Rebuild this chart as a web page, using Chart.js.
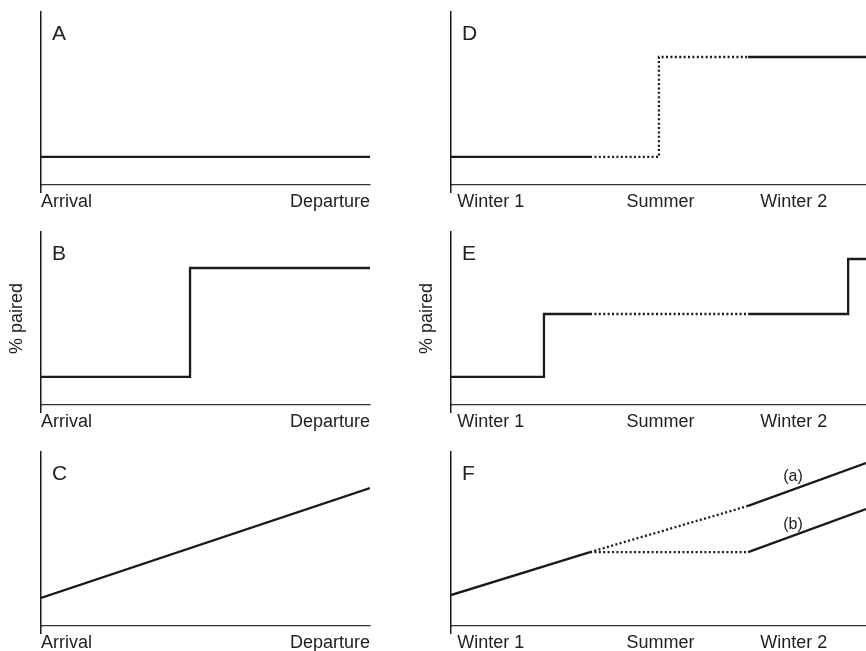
<!DOCTYPE html>
<html>
<head>
<meta charset="utf-8">
<script src="https://cdn.jsdelivr.net/npm/chart.js@4"></script>
<style>
  html, body { margin: 0; padding: 0; background: #fff; overflow: hidden; }
  body { width: 866px; height: 651px; position: relative; }
  .panel { position: absolute; }
  #pA { left: 0; top: 0; width: 372px; height: 215px; }
  #pB { left: 0; top: 220px; width: 372px; height: 215px; }
  #pC { left: 0; top: 440px; width: 372px; height: 216px; }
  #pD { left: 410px; top: 0; width: 456px; height: 215px; }
  #pE { left: 410px; top: 220px; width: 456px; height: 215px; }
  #pF { left: 410px; top: 440px; width: 456px; height: 216px; }
</style>
</head>
<body>
<div class="panel" id="pA"><canvas id="chartA"></canvas></div>
<div class="panel" id="pB"><canvas id="chartB"></canvas></div>
<div class="panel" id="pC"><canvas id="chartC"></canvas></div>
<div class="panel" id="pD"><canvas id="chartD"></canvas></div>
<div class="panel" id="pE"><canvas id="chartE"></canvas></div>
<div class="panel" id="pF"><canvas id="chartF"></canvas></div>
<script>
"use strict";

// tick labels (x in 0..100 = whole time span of each panel)
const stayTicks = ["Arrival", "Departure"];
const stayTickPos = [0, 100];
const seasonTicks = ["", "Winter 1", "Summer", "Winter 2"];
const seasonTickPos = [0, 9.6, 50.5, 82.6];

// y in 0..100 (% paired, arbitrary units)
// A - constant
const aX = [0, 100];
const aY = [16.2, 16.2];
// B - single step
const bX = [0, 45.3, 45.3, 100];
const bY = [16.2, 16.2, 79.2, 79.2];
// C - gradual increase
const cX = [0, 100];
const cY = [16.1, 79.3];
// D - step during summer (1 = dotted segment)
const dX = [0, 33.5, 50.1, 50.1, 71.6, 100];
const dY = [16.2, 16.2, 16.2, 74, 74, 74];
const dDotted = [0, 1, 1, 1, 0];
// E - steps in each winter
const eX = [0, 22.4, 22.4, 33.5, 71.6, 95.7, 95.7, 100];
const eY = [16.2, 16.2, 52.6, 52.6, 52.6, 52.6, 84.4, 84.4];
const eDotted = [0, 0, 0, 1, 0, 0, 0];
// F - gradual, (a) keeps rising in summer, (b) pauses
const faX = [0, 33.5, 71.6, 100];
const faY = [17.8, 42.5, 69, 93.7];
const faDotted = [0, 1, 0];
const fbX = [33.5, 71.6, 100];
const fbY = [42.5, 42.5, 67.2];
const fbDotted = [1, 0];
const fNotes = ["(a)", "(b)"];
const fNoteX = [82.4, 82.4];
const fNoteY = [85.6, 58];

const INK = "#1a1a1a";
const TEXT = "#222";
const FONT = "'Liberation Sans', Arial, sans-serif";

const toPoints = (xs, ys) => xs.map((x, i) => ({ x: x, y: ys[i] }));

// panel letter + small annotations drawn inside the plot area
const panelText = {
  id: "panelText",
  afterDraw(chart, args, opts) {
    const { ctx, chartArea, scales } = chart;
    ctx.save();
    ctx.fillStyle = TEXT;
    ctx.font = "21px " + FONT;
    ctx.textAlign = "left";
    ctx.textBaseline = "alphabetic";
    ctx.fillText(opts.letter, chartArea.left + 11, chartArea.top + 28);
    if (opts.notes) {
      ctx.font = "16px " + FONT;
      ctx.textAlign = "center";
      ctx.textBaseline = "middle";
      opts.notes.forEach((txt, i) => {
        ctx.fillText(txt, scales.x.getPixelForValue(opts.noteX[i]), scales.y.getPixelForValue(opts.noteY[i]));
      });
    }
    ctx.restore();
  },
};

const makeLine = (xs, ys, dotted) => ({
  data: toPoints(xs, ys),
  borderColor: INK,
  borderWidth: 2.3,
  pointRadius: 0,
  fill: false,
  segment: {
    borderDash: (ctx) => (dotted && dotted[ctx.p0DataIndex] ? [2, 2.4] : undefined),
  },
});

const makePanel = (canvasId, letter, lines, tickLabels, tickPos, inner, yTitle, notes) => {
  new Chart(document.getElementById(canvasId), {
    type: "line",
    data: { datasets: lines },
    plugins: [panelText],
    options: {
      responsive: true,
      maintainAspectRatio: false,
      animation: false,
      layout: { padding: { top: 12, right: inner ? 2 : 0, left: 0, bottom: 0 } },
      plugins: {
        legend: { display: false },
        tooltip: { enabled: false },
        panelText: notes ? { letter: letter, ...notes } : { letter: letter },
      },
      scales: {
        x: {
          type: "linear",
          min: 0,
          max: 100,
          afterBuildTicks: (axis) => {
            axis.ticks = tickPos.map((v) => ({ value: v }));
          },
          afterFit: (axis) => {
            axis.height = 30;
          },
          ticks: {
            autoSkip: false,
            maxRotation: 0,
            align: inner ? "inner" : "center",
            padding: -2,
            color: TEXT,
            font: { family: FONT, size: 18 },
            callback: (value, index) => tickLabels[index],
          },
          grid: {
            drawOnChartArea: false,
            drawTicks: true,
            tickLength: 8,
            lineWidth: 1.5,
            color: (ctx) => (ctx.index === 0 ? INK : "rgba(0,0,0,0)"),
          },
          border: { display: true, color: "#333", width: 1.2 },
        },
        y: {
          min: 0,
          max: 100,
          afterFit: (axis) => {
            axis.width = 41;
          },
          ticks: { display: false },
          grid: { display: false },
          border: { display: true, color: INK, width: 1.5 },
          title: {
            display: yTitle,
            text: "% paired",
            color: TEXT,
            font: { family: FONT, size: 18 },
            padding: { top: 6, bottom: 0 },
          },
        },
      },
    },
  });
};

makePanel("chartA", "A", [makeLine(aX, aY)], stayTicks, stayTickPos, true, false);
makePanel("chartB", "B", [makeLine(bX, bY)], stayTicks, stayTickPos, true, true);
makePanel("chartC", "C", [makeLine(cX, cY)], stayTicks, stayTickPos, true, false);
makePanel("chartD", "D", [makeLine(dX, dY, dDotted)], seasonTicks, seasonTickPos, false, false);
makePanel("chartE", "E", [makeLine(eX, eY, eDotted)], seasonTicks, seasonTickPos, false, true);
makePanel("chartF", "F", [makeLine(faX, faY, faDotted), makeLine(fbX, fbY, fbDotted)],
  seasonTicks, seasonTickPos, false, false,
  { notes: fNotes, noteX: fNoteX, noteY: fNoteY });
</script>
</body>
</html>
